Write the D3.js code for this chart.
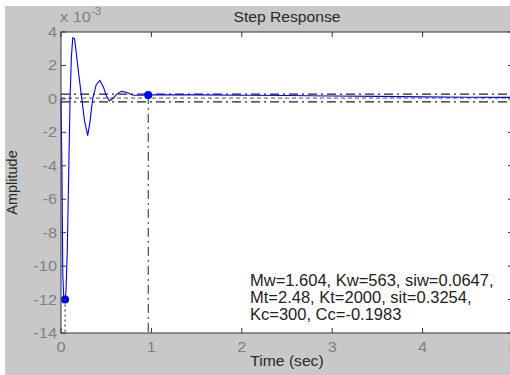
<!DOCTYPE html>
<html lang="en">
<head>
<meta charset="UTF-8">
<title>Step Response</title>
<script src="https://d3js.org/d3.v7.min.js"></script>
<style>
  body { margin: 0; background: #fff; }
  svg { display: block; }
  text { font-family: "Liberation Sans", Arial, sans-serif; }
  .tick-label { fill: #808080; font-size: 14px; }
  .label { fill: #2a2a2a; font-size: 14.5px; }
</style>
</head>
<body>
<svg width="510" height="375"></svg>
<script>
// data (amplitude in units of 1e-3)
const timeSec = [0, 0.01, 0.02, 0.03, 0.045, 0.055, 0.07, 0.09, 0.1, 0.115, 0.13, 0.15, 0.17, 0.2, 0.23, 0.26, 0.295,
  0.32, 0.35, 0.39, 0.43, 0.47, 0.5, 0.535, 0.58, 0.62, 0.67, 0.72, 0.8, 0.9, 0.97, 1.5, 2, 2.5, 3, 3.5, 4, 4.5, 5];
const amplitude = [0, -4, -10.5, -11.8, -12.1, -11.5, -9, -3, 0, 2.5, 3.65, 3.6, 2.7, 1.3, 0, -1.3, -2.2,
  -1.4, 0, 0.85, 1.1, 0.7, 0.2, -0.12, 0.05, 0.3, 0.45, 0.4, 0.22, 0.22, 0.24, 0.24, 0.22, 0.2, 0.17, 0.15, 0.12, 0.1, 0.09];
const peakPoint = {t: 0.045, v: -12.0};
const settlePoint = {t: 0.965, v: 0.24};
const bandLevels = [0.28, 0.05, -0.18];
const xTicks = [0, 1, 2, 3, 4, 5];
const yTicks = [-14, -12, -10, -8, -6, -4, -2, 0, 2, 4];
const noteLines = ["Mw=1.604, Kw=563, siw=0.0647,", "Mt=2.48, Kt=2000, sit=0.3254,", "Kc=300, Cc=-0.1983"];

const svg = d3.select("svg");
const pl = 61, pt = 32, pr = 513, pb = 333;
const stretch = 1.17; // horizontal text stretch seen in the picture

// figure background
svg.append("rect").attr("x", 5).attr("y", 6).attr("width", 505).attr("height", 369).attr("fill", "#c8c8c8");

const x = d3.scaleLinear().domain([0, 5]).range([pl, pr]);
const y = d3.scaleLinear().domain([-14, 4]).range([pb, pt]);

// plot area
svg.append("rect").attr("x", pl).attr("y", pt).attr("width", pr - pl).attr("height", pb - pt)
  .attr("fill", "#fff");

const g = svg.append("g");

// settling band lines
bandLevels.forEach((lv, i) => {
  g.append("line")
    .attr("x1", pl).attr("x2", pr)
    .attr("y1", y(lv)).attr("y2", y(lv))
    .attr("stroke", i === 1 ? "#555" : "#222")
    .attr("stroke-width", i === 1 ? 1 : 1.3)
    .attr("stroke-dasharray", i === 1 ? "4,3" : "9,4,2,4");
});

// vertical marker lines
g.append("line")
  .attr("x1", x(peakPoint.t)).attr("x2", x(peakPoint.t))
  .attr("y1", y(peakPoint.v)).attr("y2", pb)
  .attr("stroke", "#222").attr("stroke-dasharray", "2,3");
g.append("line")
  .attr("x1", x(settlePoint.t)).attr("x2", x(settlePoint.t))
  .attr("y1", y(settlePoint.v)).attr("y2", pb)
  .attr("stroke", "#222").attr("stroke-dasharray", "9,4,2,4");

// response curve
const line = d3.line().x((d, i) => x(timeSec[i])).y(d => y(d));
g.append("path").datum(amplitude)
  .attr("fill", "none").attr("stroke", "#0000ff").attr("stroke-width", 1.1)
  .attr("d", line);

// markers
[peakPoint, settlePoint].forEach(p => {
  g.append("circle").attr("cx", x(p.t)).attr("cy", y(p.v)).attr("r", 4).attr("fill", "#0000ff");
});

// box and ticks
svg.append("rect").attr("x", pl).attr("y", pt).attr("width", pr - pl).attr("height", pb - pt)
  .attr("fill", "none").attr("stroke", "#333").attr("stroke-width", 1);

xTicks.forEach(t => {
  svg.append("line").attr("x1", x(t)).attr("x2", x(t)).attr("y1", pb).attr("y2", pb - 5).attr("stroke", "#333");
  svg.append("line").attr("x1", x(t)).attr("x2", x(t)).attr("y1", pt).attr("y2", pt + 5).attr("stroke", "#333");
  svg.append("text").attr("class", "tick-label")
    .attr("transform", `translate(${x(t)},${pb + 19}) scale(${stretch},1)`)
    .attr("text-anchor", "middle").text(t);
});

yTicks.forEach(t => {
  svg.append("line").attr("x1", pl).attr("x2", pl + 5).attr("y1", y(t)).attr("y2", y(t)).attr("stroke", "#333");
  svg.append("line").attr("x1", pr).attr("x2", pr - 5).attr("y1", y(t)).attr("y2", y(t)).attr("stroke", "#333");
  svg.append("text").attr("class", "tick-label")
    .attr("transform", `translate(${pl - 4},${y(t) + 5}) scale(${stretch},1)`)
    .attr("text-anchor", "end").text(t);
});

// exponent label
const expo = svg.append("text").attr("class", "tick-label")
  .attr("transform", `translate(${pl - 1},22) scale(${stretch},1)`);
expo.append("tspan").text("x 10");
expo.append("tspan").attr("dy", -7).attr("font-size", "10px").text("-3");

// title and axis labels
svg.append("text").attr("class", "label")
  .attr("transform", `translate(${(pl + pr) / 2},22) scale(1.08,1)`)
  .attr("text-anchor", "middle").text("Step Response");
svg.append("text").attr("class", "label")
  .attr("transform", `translate(${(pl + pr) / 2},366) scale(1.08,1)`)
  .attr("text-anchor", "middle").text("Time (sec)");
svg.append("text").attr("class", "label")
  .attr("transform", `translate(17,${(pt + pb) / 2}) rotate(-90)`)
  .attr("text-anchor", "middle").text("Amplitude");

// parameter note
svg.append("text").attr("x", 250).attr("y", 286)
  .attr("fill", "#222").attr("font-size", "16.5px")
  .selectAll("tspan").data(noteLines).join("tspan")
  .attr("x", 250).attr("dy", (d, i) => i === 0 ? 0 : 17)
  .text(d => d);
</script>
</body>
</html>
